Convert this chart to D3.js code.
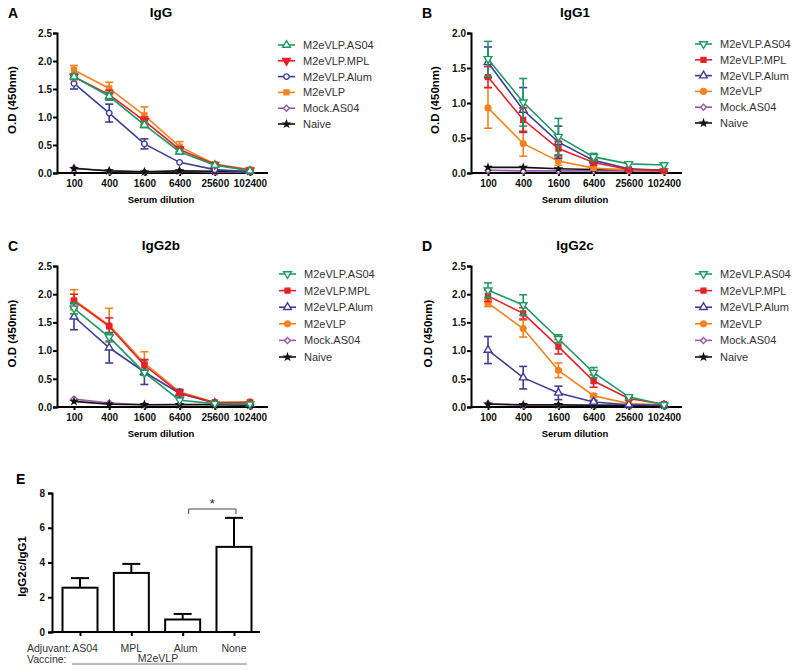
<!DOCTYPE html>
<html><head><meta charset="utf-8">
<script src="https://cdn.jsdelivr.net/npm/d3@7"></script>
<style>body{margin:0;background:#fff} svg{font-family:"Liberation Sans",Arial,sans-serif}</style>
</head><body><svg id="c" width="800" height="670"></svg>
<script>
const dilutions = ["100","400","1600","6400","25600","102400"];
const seriesNames = ["M2eVLP.AS04","M2eVLP.MPL","M2eVLP.Alum","M2eVLP","Mock.AS04","Naive"];
const seriesColors = ["#1f9a63","#e62129","#3d3d96","#f5821f","#9a5aa5","#111111"];
const markersA = ["triUpOpen","triDownFilled","circleOpen","squareFilled","diamondOpen","star"];
const markersBCD = ["triDownOpen","squareFilled","triUpOpen","circleFilled","diamondOpen","star"];

// Panel A: IgG
const igG = [
  [1.72,1.37,0.86,0.38,0.14,0.04],
  [1.72,1.40,0.93,0.42,0.15,0.05],
  [1.60,1.07,0.52,0.19,0.06,0.02],
  [1.84,1.51,1.03,0.47,0.16,0.06],
  [0.09,0.03,0.02,0.03,0.02,0.02],
  [0.08,0.04,0.02,0.04,0.03,0.03]];
const igGErr = [
  [0.05,0.07,0.05,0.04,0.02,0.01],
  [0.05,0.08,0.07,0.05,0.02,0.01],
  [0.10,0.16,0.09,0.02,0.01,0.01],
  [0.08,0.11,0.15,0.09,0.02,0.01],
  [0.02,0.01,0.01,0.01,0.01,0.01],
  [0.01,0.01,0.01,0.01,0.01,0.01]];
// Panel B: IgG1
const igG1 = [
  [1.63,1.01,0.52,0.23,0.13,0.115],
  [1.37,0.76,0.35,0.15,0.05,0.03],
  [1.58,0.90,0.44,0.18,0.06,0.04],
  [0.93,0.42,0.17,0.07,0.04,0.03],
  [0.04,0.03,0.03,0.03,0.03,0.03],
  [0.08,0.08,0.06,0.05,0.05,0.04]];
const igG1Err = [
  [0.25,0.34,0.26,0.05,0.02,0.02],
  [0.15,0.17,0.10,0.04,0.01,0.01],
  [0.22,0.32,0.23,0.04,0.02,0.01],
  [0.29,0.18,0.06,0.02,0.01,0.01],
  [0.01,0.01,0.01,0.01,0.01,0.01],
  [0.01,0.01,0.01,0.01,0.01,0.01]];
// Panel C: IgG2b
const igG2b = [
  [1.75,1.24,0.61,0.12,0.06,0.05],
  [1.88,1.43,0.74,0.25,0.08,0.08],
  [1.60,1.05,0.62,0.24,0.07,0.05],
  [1.90,1.45,0.78,0.27,0.08,0.09],
  [0.14,0.07,0.04,0.05,0.05,0.04],
  [0.10,0.05,0.04,0.04,0.04,0.03]];
const igG2bErr = [
  [0.10,0.07,0.05,0.02,0.01,0.01],
  [0.12,0.15,0.10,0.03,0.02,0.02],
  [0.23,0.27,0.22,0.07,0.02,0.01],
  [0.18,0.30,0.20,0.04,0.02,0.02],
  [0.01,0.01,0.01,0.01,0.01,0.01],
  [0.01,0.01,0.01,0.01,0.01,0.01]];
// Panel D: IgG2c
const igG2c = [
  [2.07,1.81,1.21,0.61,0.18,0.04],
  [1.97,1.66,1.07,0.46,0.15,0.05],
  [1.01,0.52,0.25,0.09,0.04,0.03],
  [1.84,1.39,0.65,0.20,0.06,0.04],
  [0.06,0.03,0.03,0.03,0.03,0.03],
  [0.05,0.04,0.04,0.03,0.03,0.03]];
const igG2cErr = [
  [0.13,0.18,0.07,0.09,0.03,0.01],
  [0.10,0.10,0.13,0.11,0.03,0.01],
  [0.24,0.20,0.12,0.03,0.01,0.01],
  [0.06,0.15,0.13,0.03,0.01,0.01],
  [0.01,0.01,0.01,0.01,0.01,0.01],
  [0.01,0.01,0.01,0.01,0.01,0.01]];
// Panel E
const adjuvants = ["AS04","MPL","Alum","None"];
const ratioValues = [2.55,3.40,0.72,4.90];
const ratioErr = [0.55,0.52,0.32,1.67];
const yTicksA = [0,0.5,1.0,1.5,2.0,2.5];
const yTicksB = [0,0.5,1.0,1.5,2.0];
const yTicksE = [0,2,4,6,8];

const svg = d3.select("#c");

function symPath(kind){
  const s = {
    triUpOpen:[d3.symbolTriangle,26,0], triDownOpen:[d3.symbolTriangle,26,180],
    triDownFilled:[d3.symbolTriangle,26,180], circleOpen:[d3.symbolCircle,24,0],
    circleFilled:[d3.symbolCircle,26,0], squareFilled:[d3.symbolSquare,24,0],
    diamondOpen:[d3.symbolSquare,18,45], star:[d3.symbolStar,10,0]}[kind];
  return {d:d3.symbol().type(s[0]).size(s[1])(), rot:s[2], open:kind.includes("Open")};
}
function drawMarker(g, kind, x, y, color){
  const p = symPath(kind);
  g.append("path").attr("d",p.d)
    .attr("transform",`translate(${x},${y}) rotate(${p.rot})`)
    .attr("fill",p.open?"#fff":color).attr("stroke",color).attr("stroke-width",1.4);
}

function linePanel(cfg){
  const g = svg.append("g");
  const x = d3.scalePoint().domain(dilutions).range([cfg.x0+17, cfg.x0+193]);
  const y = d3.scaleLinear().domain([0,cfg.yMax]).range([cfg.yBot,cfg.yTop]);
  const ya = g.append("g").attr("transform",`translate(${cfg.x0},0)`)
    .call(d3.axisLeft(y).tickValues(cfg.ticks).tickFormat(d3.format(".1f")).tickSize(4).tickPadding(1));
  const xa = g.append("g").attr("transform",`translate(0,${cfg.yBot})`)
    .call(d3.axisBottom(x).tickSize(3).tickPadding(4));
  xa.select(".domain").attr("d",`M${cfg.x0},0H${cfg.x0+211}`);
  [ya,xa].forEach(a=>{
    a.selectAll(".domain,line").attr("stroke","#000").attr("stroke-width",2);
    a.selectAll("text").attr("font-size",10).attr("font-weight","bold").attr("fill","#111")
      .attr("font-family","Liberation Sans, Arial, sans-serif");
  });
  g.append("text").attr("x",cfg.letterX).attr("y",cfg.yTop-15).text(cfg.letter)
    .attr("font-size",14).attr("font-weight","bold");
  g.append("text").attr("x",cfg.x0+104).attr("y",cfg.yTop-16).attr("text-anchor","middle")
    .text(cfg.title).attr("font-size",13.5).attr("font-weight","bold");
  g.append("text").attr("transform",`translate(${cfg.ylabX},${(cfg.yTop+cfg.yBot)/2-3}) rotate(-90)`)
    .attr("text-anchor","middle").text("O.D (450nm)").attr("font-size",11.5).attr("font-weight","bold");
  g.append("text").attr("x",cfg.x0+104).attr("y",cfg.yBot+30).attr("text-anchor","middle")
    .text("Serum dilution").attr("font-size",9.5).attr("font-weight","bold");
  const order = [4,5,3,2,1,0];
  const line = d3.line().x((d,i)=>x(dilutions[i])).y(d=>y(d));
  order.forEach(si=>{
    const col = seriesColors[si];
    const sg = g.append("g");
    sg.append("path").datum(cfg.data[si]).attr("d",line).attr("fill","none")
      .attr("stroke",col).attr("stroke-width",1.6);
    cfg.data[si].forEach((v,i)=>{
      const e = cfg.err[si][i], xx = x(dilutions[i]);
      if (y(v-e)-y(v+e) > 3){
        sg.append("line").attr("x1",xx).attr("x2",xx).attr("y1",y(v-e)).attr("y2",y(v+e))
          .attr("stroke",col).attr("stroke-width",1.6);
        [v-e,v+e].forEach(t=>sg.append("line").attr("x1",xx-4).attr("x2",xx+4)
          .attr("y1",y(t)).attr("y2",y(t)).attr("stroke",col).attr("stroke-width",1.6));
      }
      drawMarker(sg, cfg.markers[si], xx, y(v), col);
    });
  });
  seriesNames.forEach((n,i)=>{
    const ly = cfg.legY + i*cfg.legStep;
    const lg = g.append("g");
    lg.append("line").attr("x1",cfg.legX).attr("x2",cfg.legX+17).attr("y1",ly).attr("y2",ly)
      .attr("stroke",seriesColors[i]).attr("stroke-width",1.6);
    drawMarker(lg, cfg.markers[i], cfg.legX+8.5, ly, seriesColors[i]);
    lg.append("text").attr("x",cfg.legX+25).attr("y",ly+4).text(n)
      .attr("font-size",11).attr("fill","#333");
  });
}

linePanel({letter:"A",title:"IgG",x0:57,yTop:33,yBot:173,yMax:2.5,ticks:yTicksA,data:igG,err:igGErr,
  markers:markersA,letterX:8,ylabX:16,legX:278,legY:45,legStep:15.8});
linePanel({letter:"B",title:"IgG1",x0:471,yTop:33,yBot:173,yMax:2.0,ticks:yTicksB,data:igG1,err:igG1Err,
  markers:markersBCD,letterX:422,ylabX:439,legX:695,legY:44,legStep:15.8});
linePanel({letter:"C",title:"IgG2b",x0:57,yTop:266,yBot:407,yMax:2.5,ticks:yTicksA,data:igG2b,err:igG2bErr,
  markers:markersBCD,letterX:8,ylabX:16,legX:279,legY:274,legStep:16.6});
linePanel({letter:"D",title:"IgG2c",x0:471,yTop:266,yBot:407,yMax:2.5,ticks:yTicksA,data:igG2c,err:igG2cErr,
  markers:markersBCD,letterX:422,ylabX:432,legX:695,legY:274,legStep:16.6});

// Panel E
(function(){
  const g = svg.append("g");
  const x0 = 52, yTop = 493, yBot = 632;
  const x = d3.scalePoint().domain(adjuvants).range([80,234]);
  const bw = 35;
  const y = d3.scaleLinear().domain([0,8]).range([yBot,yTop]);
  const ya = g.append("g").attr("transform",`translate(${x0},0)`)
    .call(d3.axisLeft(y).tickValues(yTicksE).tickFormat("").tickSize(4));
  const xa = g.append("g").attr("transform",`translate(0,${yBot})`)
    .call(d3.axisBottom(x).tickSize(4).tickFormat(""));
  xa.select(".domain").attr("d",`M${x0},0H260`);
  [ya,xa].forEach(a=>{
    a.selectAll(".domain,line").attr("stroke","#000").attr("stroke-width",2);
  });
  yTicksE.forEach(t=>{
    g.append("text").attr("x",x0-7).attr("y",y(t)+3.5).attr("text-anchor","end")
      .text(String(t)).attr("font-size",10).attr("font-weight","bold").attr("fill","#111");
  });
  const labelShift = [5,0,3,0];
  adjuvants.forEach((a,i)=>{
    const cx = x(a), v = ratioValues[i], e = ratioErr[i];
    g.append("line").attr("x1",cx).attr("x2",cx).attr("y1",y(v)).attr("y2",y(v+e))
      .attr("stroke","#000").attr("stroke-width",2);
    g.append("line").attr("x1",cx-9).attr("x2",cx+9).attr("y1",y(v+e)).attr("y2",y(v+e))
      .attr("stroke","#000").attr("stroke-width",2);
    g.append("rect").attr("x",cx-bw/2).attr("y",y(v)).attr("width",bw).attr("height",yBot-y(v))
      .attr("fill","#fff").attr("stroke","#000").attr("stroke-width",2);
    g.append("text").attr("x",cx+labelShift[i]).attr("y",652).attr("text-anchor","middle")
      .text(a).attr("font-size",10.5).attr("fill","#333");
  });
  g.append("text").attr("x",16).attr("y",484).text("E").attr("font-size",14).attr("font-weight","bold");
  g.append("text").attr("transform",`translate(26,${(yTop+yBot)/2+4}) rotate(-90)`)
    .attr("text-anchor","middle").text("IgG2c/IgG1").attr("font-size",11.5).attr("font-weight","bold");
  const bx1 = x("Alum")+6, bx2 = x("None")+2, by = 509;
  g.append("path").attr("d",`M${bx1},${by+5}V${by}H${bx2}V${by+5}`).attr("fill","none")
    .attr("stroke","#444").attr("stroke-width",1);
  g.append("text").attr("x",(bx1+bx2)/2).attr("y",by-1).attr("text-anchor","middle")
    .text("*").attr("font-size",13).attr("fill","#222");
  g.append("text").attr("x",27).attr("y",652).text("Adjuvant:").attr("font-size",10.5).attr("fill","#333");
  g.append("text").attr("x",27).attr("y",663).text("Vaccine:").attr("font-size",10.5).attr("fill","#333");
  g.append("text").attr("x",158).attr("y",662).attr("text-anchor","middle").text("M2eVLP")
    .attr("font-size",10.5).attr("fill","#333");
  g.append("line").attr("x1",72).attr("x2",247).attr("y1",664).attr("y2",664)
    .attr("stroke","#555").attr("stroke-width",0.8);
})();
</script></body></html>
